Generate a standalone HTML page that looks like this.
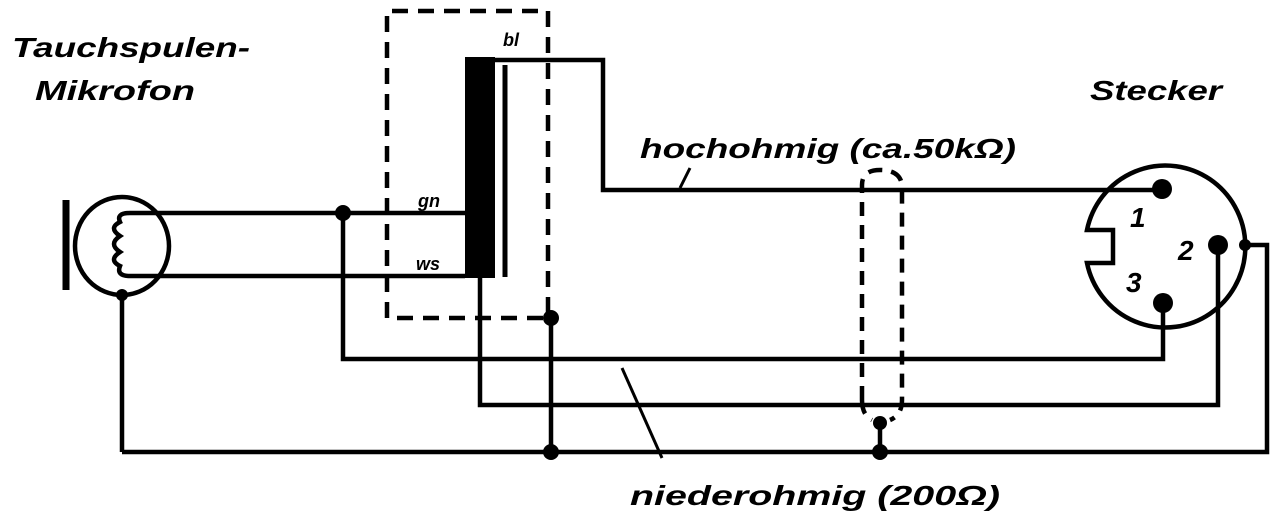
<!DOCTYPE html>
<html><head><meta charset="utf-8"><style>html,body{margin:0;padding:0;background:#fff}svg{display:block}</style></head>
<body>
<svg width="1280" height="519" viewBox="0 0 1280 519" xmlns="http://www.w3.org/2000/svg">
<g font-family="Liberation Sans, sans-serif" font-style="italic" font-weight="bold" fill="#000">
<text x="12" y="57" font-size="28" textLength="238" lengthAdjust="spacingAndGlyphs">Tauchspulen-</text>
<text x="35" y="100" font-size="28" textLength="160" lengthAdjust="spacingAndGlyphs">Mikrofon</text>
<text x="1090" y="100" font-size="28" textLength="132" lengthAdjust="spacingAndGlyphs">Stecker</text>
<text x="640" y="158" font-size="28" textLength="376" lengthAdjust="spacingAndGlyphs">hochohmig (ca.50kΩ)</text>
<text x="630" y="505" font-size="28" textLength="370" lengthAdjust="spacingAndGlyphs">niederohmig (200Ω)</text>
<text x="503" y="46" font-size="18">bl</text>
<text x="418" y="207" font-size="18">gn</text>
<text x="416" y="270" font-size="18">ws</text>
<text x="1130" y="227" font-size="28">1</text>
<text x="1178" y="260" font-size="28">2</text>
<text x="1126" y="292" font-size="28">3</text>
</g>
<g stroke="#000" stroke-width="4.5" fill="none">
<ellipse cx="122" cy="246" rx="47" ry="49"/>
<line x1="66" y1="200" x2="66" y2="290" stroke-width="7"/>
<path d="M168 213 H130 Q116 213 120 222 Q108 228 120 236 Q108 244 120 252 Q108 260 120 266 Q116 276 130 276 H168"/>
<path d="M168 213 H465 M168 276 H465"/>
<line x1="122" y1="295" x2="122" y2="452"/>
<path d="M343 213 V359 H1163 V303"/>
<rect x="465" y="57" width="30" height="221" fill="#000" stroke="none"/>
<line x1="505" y1="65" x2="505" y2="277" stroke-width="5"/>
<path d="M495 60 H603 V190 H1162"/>
<path d="M480 278 V405 H1218 V245"/>
<path d="M551 318 V452"/>
<path d="M122 452 H1267 V245 H1243"/>
<path d="M387 318 V11 H548 V318 H387" stroke-dasharray="16 10"/>
<path d="M1087 230 A80 81 0 1 1 1087 263 H1113 V230 Z"/>
<path d="M862 400 V185 Q862 170 880 170 Q900 170 902 185 V400 Q902 415 890 420 M862 400 Q862 415 872 420" stroke-dasharray="14 9"/>
<line x1="880" y1="423" x2="880" y2="452"/>
<line x1="690" y1="168" x2="680" y2="188" stroke-width="3"/>
<line x1="622" y1="368" x2="662" y2="458" stroke-width="3"/>
</g>
<g fill="#000">
<circle cx="343" cy="213" r="8"/>
<circle cx="551" cy="318" r="8"/>
<circle cx="551" cy="452" r="8"/>
<circle cx="880" cy="452" r="8"/>
<circle cx="880" cy="423" r="7"/>
<circle cx="122" cy="295" r="6"/>
<circle cx="1162" cy="189" r="10"/>
<circle cx="1218" cy="245" r="10"/>
<circle cx="1163" cy="303" r="10"/>
<circle cx="1245" cy="245" r="6"/>
</g>
</svg>
</body></html>
